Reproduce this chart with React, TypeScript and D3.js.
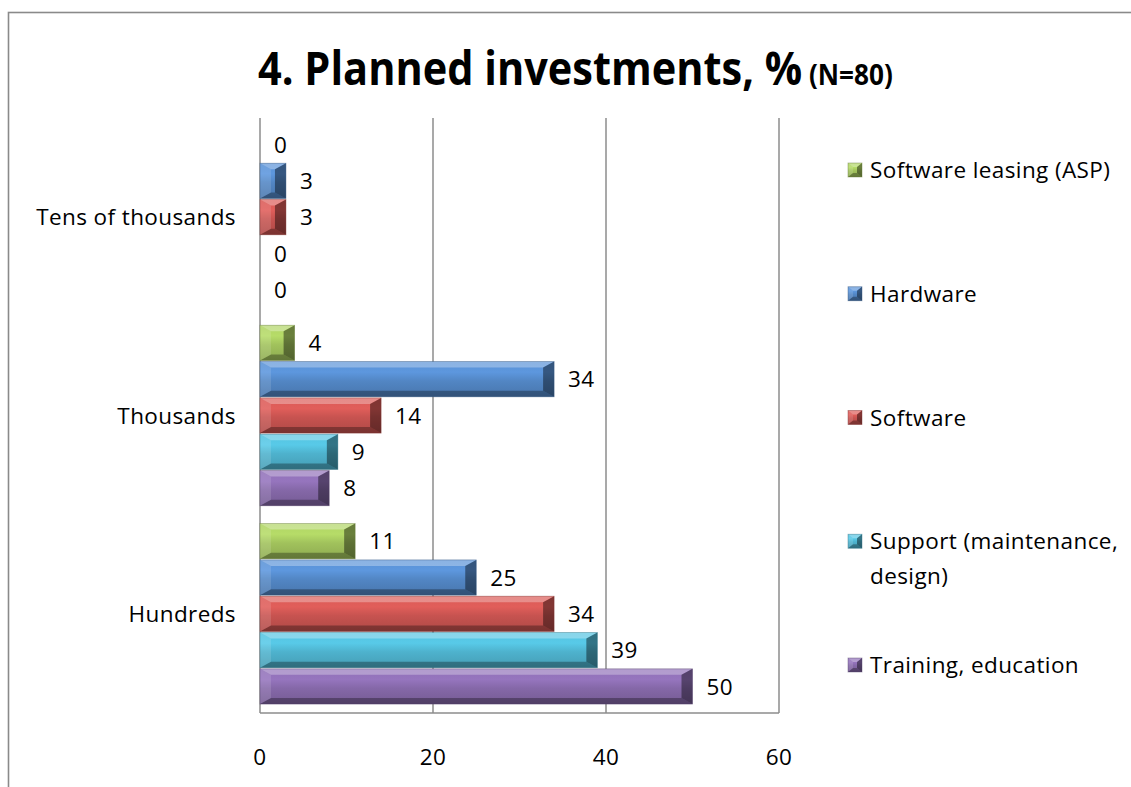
import * as d3 from "d3";
import React, { useLayoutEffect, useRef, useState } from "react";

const WIDTH = 1131;
const HEIGHT = 787;
const PLOT = { left: 260, right: 779, top: 118, bottom: 713 };
const FONT = "'Open Sans', 'Noto Sans', sans-serif";
const FS = 22.5;
const LS = 0.4;
const TITLE = { x: 258, y: 85, width: 635 };

// categories top to bottom
const categories = ["Tens of thousands", "Thousands", "Hundreds"];
// series in drawing order within a group (top to bottom) = legend order
const seriesNames = [
    "Software leasing (ASP)",
    "Hardware",
    "Software",
    "Support (maintenance, design)",
    "Training, education",
];
const seriesColors = ["#9bbb59", "#4f81bd", "#c0504d", "#4bacc6", "#8064a2"];
const legendLines = [
    ["Software leasing (ASP)"],
    ["Hardware"],
    ["Software"],
    ["Support (maintenance,", "design)"],
    ["Training, education"],
];

const leasing = [0, 4, 11];
const hardware = [3, 34, 25];
const software = [3, 14, 34];
const support = [0, 9, 39];
const training = [0, 8, 50];
const seriesValues = [leasing, hardware, software, support, training];

const xTicks = [0, 20, 40, 60];

// bevelled bar like Excel's "bevel" shape effect
const BevelBar: React.FC<{
    x: number;
    y: number;
    w: number;
    h: number;
    color: string;
    gid: string;
    bx?: number;
    by?: number;
}> = ({ x, y, w, h, color, gid, bx = 11, by = 6 }) => {
    if (w <= 0) return null;
    const ix = Math.min(bx, w / 2);
    const iy = Math.min(by, h / 2);
    const x1 = x + w;
    const y1 = y + h;
    const pts = (p: number[][]) => p.map((d) => d.join(",")).join(" ");
    return (
        <g>
            <rect x={x} y={y} width={w} height={h} fill={`url(#${gid})`} />
            {/* top */}
            <polygon
                points={pts([[x, y], [x1, y], [x1 - ix, y + iy], [x + ix, y + iy]])}
                fill="#fff"
                opacity={0.3}
            />
            {/* bottom */}
            <polygon
                points={pts([[x, y1], [x1, y1], [x1 - ix, y1 - iy], [x + ix, y1 - iy]])}
                fill="#000"
                opacity={0.3}
            />
            {/* left */}
            <polygon
                points={pts([[x, y], [x + ix, y + iy], [x + ix, y1 - iy], [x, y1]])}
                fill="#fff"
                opacity={0.12}
            />
            {/* right */}
            <polygon
                points={pts([[x1, y], [x1 - ix, y + iy], [x1 - ix, y1 - iy], [x1, y1]])}
                fill="#000"
                opacity={0.42}
            />
            <rect
                x={x}
                y={y}
                width={w}
                height={h}
                fill="none"
                stroke={d3.color(color)!.darker(1.2).formatHex()}
                strokeOpacity={0.5}
                strokeWidth={0.8}
            />
        </g>
    );
};

const App: React.FC = () => {
    // Calibri is narrow, so squeeze the substitute font to the original title width
    const titleRef = useRef<SVGTextElement>(null);
    const [titleSx, setTitleSx] = useState(0.83);
    useLayoutEffect(() => {
        if (!titleRef.current) return;
        const w = titleRef.current.getComputedTextLength();
        if (w > 0) setTitleSx(TITLE.width / w);
    }, []);

    const xScale = d3.scaleLinear().domain([0, 60]).range([PLOT.left, PLOT.right]);

    const yScale = d3
        .scaleBand<string>()
        .domain(categories)
        .range([PLOT.top, PLOT.bottom])
        .paddingInner(0.09)
        .paddingOuter(0.045);

    const ySeries = d3
        .scaleBand<number>()
        .domain(d3.range(seriesNames.length))
        .range([0, yScale.bandwidth()])
        .paddingInner(0.03);

    const legendY = d3
        .scalePoint<number>()
        .domain(d3.range(seriesNames.length))
        .range([170, 665]);

    const grid = "#8c8c8c";

    return (
        <svg
            width={WIDTH}
            height={HEIGHT}
            style={{ position: "absolute", left: 0, top: 0 }}
            fontFamily={FONT}
        >
            <defs>
                {seriesColors.map((c, i) => {
                    const col = d3.color(c)!;
                    return (
                        <linearGradient key={i} id={`g${i}`} x1="0" y1="0" x2="0" y2="1">
                            <stop offset="0" stopColor={col.brighter(0.35).formatHex()} />
                            <stop offset="0.3" stopColor={col.brighter(0.45).formatHex()} />
                            <stop offset="0.55" stopColor={col.brighter(0.1).formatHex()} />
                            <stop offset="1" stopColor={col.darker(0.25).formatHex()} />
                        </linearGradient>
                    );
                })}
            </defs>
            <rect width={WIDTH} height={HEIGHT} fill="#fff" />
            {/* outer chart border, runs off the picture */}
            <rect
                x={8.5}
                y={12.5}
                width={1200}
                height={900}
                fill="none"
                stroke="#8a8a8a"
                strokeWidth={1.6}
            />

            <text
                ref={titleRef}
                transform={`translate(${TITLE.x},${TITLE.y}) scale(${titleSx},1)`}
                fontWeight="bold"
                fontSize={46}
                fill="#000"
            >
                4. Planned investments, %<tspan fontSize={29}> (N=80)</tspan>
            </text>

            {/* gridlines and plot frame */}
            {xTicks.map((t) => (
                <line
                    key={t}
                    x1={xScale(t)}
                    x2={xScale(t)}
                    y1={PLOT.top}
                    y2={PLOT.bottom}
                    stroke={grid}
                    strokeWidth={1.5}
                />
            ))}
            <line
                x1={PLOT.left}
                x2={PLOT.right}
                y1={PLOT.bottom}
                y2={PLOT.bottom}
                stroke={grid}
                strokeWidth={1.5}
            />

            {/* bars */}
            {categories.map((cat, ci) => (
                <g key={cat}>
                    {seriesValues.map((vals, si) => {
                        const v = vals[ci];
                        const y = (yScale(cat) || 0) + (ySeries(si) || 0);
                        const h = ySeries.bandwidth();
                        return (
                            <g key={si}>
                                <BevelBar
                                    x={xScale(0)}
                                    y={y}
                                    w={xScale(v) - xScale(0)}
                                    h={h}
                                    color={seriesColors[si]}
                                    gid={`g${si}`}
                                />
                                <text
                                    x={xScale(v) + 14}
                                    y={y + h / 2}
                                    dy="0.36em"
                                    fontSize={FS}
                                    letterSpacing={LS}
                                    fill="#000"
                                >
                                    {v}
                                </text>
                            </g>
                        );
                    })}
                </g>
            ))}

            {/* category labels */}
            {categories.map((cat) => (
                <text
                    key={cat}
                    x={PLOT.left - 24}
                    y={(yScale(cat) || 0) + yScale.bandwidth() / 2}
                    dy="0.36em"
                    textAnchor="end"
                    fontSize={FS}
                    letterSpacing={LS}
                    fill="#000"
                >
                    {cat}
                </text>
            ))}

            {/* x tick labels */}
            {xTicks.map((t) => (
                <text
                    key={t}
                    x={xScale(t)}
                    y={757}
                    dy="0.36em"
                    textAnchor="middle"
                    fontSize={FS}
                    letterSpacing={LS}
                    fill="#000"
                >
                    {t}
                </text>
            ))}

            {/* legend */}
            {seriesNames.map((name, i) => {
                const cy = legendY(i) || 0;
                return (
                    <g key={name}>
                        <BevelBar
                            x={848}
                            y={cy - 7}
                            w={14}
                            h={14}
                            color={seriesColors[i]}
                            gid={`g${i}`}
                            bx={5}
                            by={4}
                        />
                        {legendLines[i].map((ln, li) => (
                            <text
                                key={li}
                                x={870}
                                y={cy + li * 35}
                                dy="0.36em"
                                fontSize={FS}
                                letterSpacing={LS}
                                fill="#000"
                            >
                                {ln}
                            </text>
                        ))}
                    </g>
                );
            })}
        </svg>
    );
};

export default App;
